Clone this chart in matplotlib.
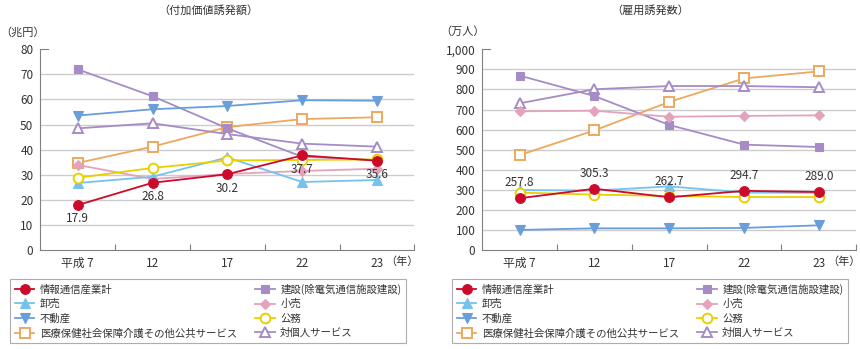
import matplotlib.pyplot as plt
from matplotlib.ticker import FuncFormatter, FixedLocator

plt.rcParams['font.family'] = ['Noto Sans CJK JP', 'DejaVu Sans']

# Categories (years)
years = ['平成 7', '12', '17', '22', '23']

# Series names
names = ['情報通信産業計', '建設(除電気通信施設建設)', '卸売', '小売', '不動産', '公務',
         '医療保健社会保障介護その他公共サービス', '対個人サービス']

# Value added induced (trillion yen)
va_ict = [17.9, 26.8, 30.2, 37.7, 35.6]
va_construction = [72.0, 61.3, 48.5, 37.2, 35.8]
va_wholesale = [26.7, 29.2, 36.9, 27.1, 27.9]
va_retail = [33.9, 28.3, 30.3, 31.5, 32.4]
va_realestate = [53.6, 56.1, 57.4, 59.7, 59.5]
va_public = [28.8, 32.7, 35.7, 35.9, 36.1]
va_medical = [34.7, 41.2, 49.0, 52.2, 52.9]
va_personal = [48.5, 50.5, 46.2, 42.4, 41.2]

# Employment induced (10 thousand persons)
emp_ict = [257.8, 305.3, 262.7, 294.7, 289.0]
emp_construction = [869, 767, 623, 525, 513]
emp_wholesale = [299, 296, 317, 286, 285]
emp_retail = [691, 694, 664, 668, 671]
emp_realestate = [100, 108, 108, 110, 123]
emp_public = [286, 276, 269, 264, 264]
emp_medical = [473, 596, 738, 855, 890]
emp_personal = [731, 801, 817, 817, 811]

# style per series: color, marker, filled, marker size
styles = {
    '情報通信産業計': ('#cc0a2a', 'o', True, 7.0),
    '建設(除電気通信施設建設)': ('#a58cc6', 's', True, 6.0),
    '卸売': ('#76c2ee', '^', True, 6.5),
    '小売': ('#e3a3bd', 'D', True, 5.5),
    '不動産': ('#6a9edb', 'v', True, 6.5),
    '公務': ('#e8d000', 'o', False, 7.0),
    '医療保健社会保障介護その他公共サービス': ('#eca85e', 's', False, 6.5),
    '対個人サービス': ('#a58cc6', '^', False, 7.0),
}

draw_order = ['医療保健社会保障介護その他公共サービス', '対個人サービス',
              '建設(除電気通信施設建設)', '不動産', '小売', '卸売', '公務', '情報通信産業計']
legend_order = ['情報通信産業計', '卸売', '不動産', '医療保健社会保障介護その他公共サービス',
                '建設(除電気通信施設建設)', '小売', '公務', '対個人サービス']

TEXT = '#333333'
AXIS = '#808080'
GRID = '#cccccc'


def draw_panel(ax, data, ymax, ystep, label_offset, fmt):
    x = list(range(len(years)))
    handles = {}
    for name in draw_order:
        color, marker, filled, ms = styles[name]
        h, = ax.plot(x, data[name], color=color, lw=1.3, marker=marker, ms=ms,
                     markerfacecolor=color if filled else 'white',
                     markeredgecolor=color, markeredgewidth=1.4 if not filled else 0.8,
                     zorder=3, clip_on=False)
        handles[name] = h

    for xi, v in zip(x, data['情報通信産業計']):
        ax.annotate(f'{v:.1f}', (xi, v), xytext=(0, label_offset), textcoords='offset points',
                    ha='center', va='center', fontsize=8.5, color=TEXT, zorder=4)

    ax.set_xlim(-0.5, len(years) - 0.5)
    ax.set_ylim(0, ymax)
    ax.set_yticks(range(0, ymax + 1, ystep))
    ax.yaxis.set_major_formatter(FuncFormatter(fmt))
    for y in range(ystep, ymax, ystep):
        ax.axhline(y, color=GRID, lw=1.0, zorder=1)

    ax.set_xticks(x)
    ax.set_xticklabels(years)
    ax.tick_params(axis='x', which='major', length=0, pad=5, labelsize=8.5, colors=TEXT)
    ax.xaxis.set_minor_locator(FixedLocator([i + 0.5 for i in x]))
    ax.tick_params(axis='x', which='minor', direction='in', length=4, color=AXIS, width=0.8)
    ax.tick_params(axis='y', which='major', length=0, pad=5, labelsize=8.5, colors=TEXT)
    # short tick at the top of the value axis
    ax.plot([0, 0.02], [1, 1], transform=ax.transAxes, color=AXIS, lw=0.8, clip_on=False)

    for side in ('top', 'right'):
        ax.spines[side].set_visible(False)
    for side in ('left', 'bottom'):
        ax.spines[side].set_color(AXIS)
        ax.spines[side].set_linewidth(0.8)
    return handles


fig = plt.figure(figsize=(8.6, 3.49), dpi=100)
ax1 = fig.add_axes([0.0469, 0.2837, 0.4349, 0.575])
ax2 = fig.add_axes([0.5608, 0.2837, 0.4349, 0.575])

va_data = dict(zip(names, [va_ict, va_construction, va_wholesale, va_retail,
                           va_realestate, va_public, va_medical, va_personal]))
emp_data = dict(zip(names, [emp_ict, emp_construction, emp_wholesale, emp_retail,
                            emp_realestate, emp_public, emp_medical, emp_personal]))

h1 = draw_panel(ax1, va_data, 80, 10, -10, lambda v, p: f'{int(v)}')
h2 = draw_panel(ax2, emp_data, 1000, 100, 11, lambda v, p: f'{int(v):,}')

# titles and units
fig.text(208 / 860, 1 - 10 / 349, '（付加価値誘発額）', ha='center', va='center', fontsize=8, color=TEXT)
fig.text(650 / 860, 1 - 10 / 349, '（雇用誘発数）', ha='center', va='center', fontsize=8, color=TEXT)
fig.text(0 / 860, 1 - 32 / 349, '（兆円）', ha='left', va='center', fontsize=8, color=TEXT)
fig.text(440 / 860, 1 - 32 / 349, '（万人）', ha='left', va='center', fontsize=8, color=TEXT)
fig.text(385 / 860, 1 - 262 / 349, '（年）', ha='left', va='center', fontsize=8, color=TEXT)
fig.text(827 / 860, 1 - 262 / 349, '（年）', ha='left', va='center', fontsize=8, color=TEXT)

# legends below each panel
for handles, left in ((h1, 10), (h2, 452)):
    leg = fig.legend([handles[n] for n in legend_order], legend_order, ncol=2,
                     loc='lower left', bbox_to_anchor=(left / 860, 1 - 343 / 349, 396 / 860, 69 / 349),
                     mode='expand', fontsize=7.5, frameon=True, fancybox=False,
                     edgecolor='#999999', handlelength=1.9, handletextpad=0.5,
                     labelspacing=0.42, borderpad=0.45, borderaxespad=0, columnspacing=1.0,
                     labelcolor=TEXT)
    leg.get_frame().set_linewidth(0.8)

fig.savefig('out.png', dpi=100)
